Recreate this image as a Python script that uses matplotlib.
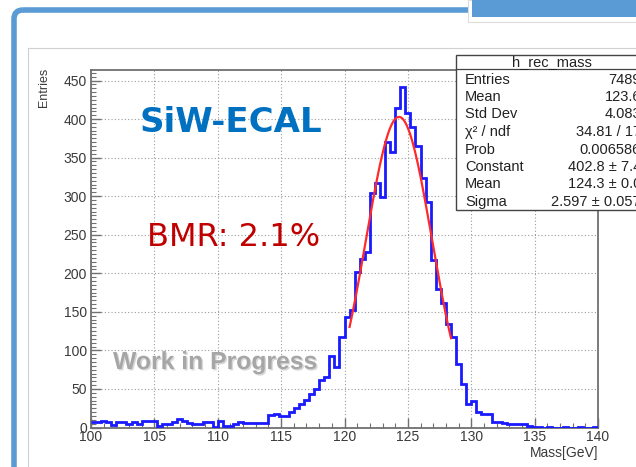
import numpy as np
import matplotlib
matplotlib.use("Agg")
import matplotlib.pyplot as plt
from matplotlib.patches import Rectangle, FancyBboxPatch
from matplotlib.ticker import MultipleLocator, FixedLocator
import matplotlib.patheffects as pe

plt.rcParams['font.family'] = ['Liberation Sans', 'DejaVu Sans']

# ---------------- data ----------------
x_min, x_max = 100.0, 140.0
n_bins = 100
counts = [
    7, 7, 9, 7, 3, 7, 7, 4, 7, 4,
    8, 8, 8, 2, 4, 4, 7, 11, 8, 6,
    4, 4, 7, 7, 1, 9, 2, 2, 5, 7,
    6, 6, 6, 6, 6, 16, 17, 15, 15, 20,
    25, 31, 36, 43, 50, 61, 65, 93, 79, 117,
    143, 152, 202, 218, 228, 304, 317, 299, 370, 357,
    414, 442, 408, 390, 365, 323, 292, 217, 180, 161,
    134, 118, 82, 57, 31, 35, 20, 17, 17, 7,
    7, 6, 5, 4, 4, 5, 2, 1, 1, 0,
    1, 0, 0, 1, 0, 0, 1, 0, 0, 1,
]
fit_constant = 402.8
fit_mean = 124.3
fit_sigma = 2.597
fit_range = (120.4, 128.4)

x_ticks = [100, 105, 110, 115, 120, 125, 130, 135, 140]
y_ticks = [0, 50, 100, 150, 200, 250, 300, 350, 400, 450]
y_max = 464.3

stats_title = "h_rec_mass"
stats_labels = ["Entries", "Mean", "Std Dev", "χ² / ndf", "Prob",
                "Constant", "Mean", "Sigma"]
stats_values = ["7489", "123.6", "4.083", "34.81 / 17", "0.006586",
                "402.8 ± 7.4", "124.3 ± 0.0", "2.597 ± 0.057"]

title_text = "SiW-ECAL"
bmr_text = "BMR: 2.1%"
wip_text = "Work in Progress"
x_label = "Mass[GeV]"
y_label = "Entries"

# ---------------- figure ----------------
W, H = 636, 467
fig = plt.figure(figsize=(W / 100, H / 100), dpi=100, facecolor='white')

# background decoration axes (pixel coordinates, y downwards)
bg = fig.add_axes([0, 0, 1, 1], zorder=0)
bg.set_xlim(0, W)
bg.set_ylim(H, 0)
bg.axis('off')

slide_blue = '#5b9bd5'
bg.add_patch(FancyBboxPatch((14, 10), 900, 900, boxstyle="round,pad=0,rounding_size=9",
                            fill=False, edgecolor=slide_blue, linewidth=4.0))
bg.add_patch(Rectangle((468, 0), 200, 22, facecolor='white', edgecolor='#dddddd', linewidth=0.8))
bg.add_patch(Rectangle((472, 0), 170, 17, facecolor=slide_blue, edgecolor='none'))
bg.plot([28, 640], [48, 48], color='#d0d0d0', lw=0.8)
bg.plot([28, 28], [48, 470], color='#d0d0d0', lw=0.8)

# main axes
L, R, T, B = 91, 598, 69.5, 427.5
ax = fig.add_axes([L / W, 1 - B / H, (R - L) / W, (B - T) / H], zorder=2)
ax.set_facecolor('white')

edges = np.linspace(x_min, x_max, n_bins + 1)
ax.stairs(counts, edges, baseline=None, color='#1a1aff', linewidth=2.0, zorder=3)

xf = np.linspace(fit_range[0], fit_range[1], 300)
yf = fit_constant * np.exp(-0.5 * ((xf - fit_mean) / fit_sigma) ** 2)
ax.plot(xf, yf, color='#ff2a2a', linewidth=1.6, zorder=4)

ax.set_xlim(x_min, x_max)
ax.set_ylim(0, y_max)
ax.xaxis.set_major_locator(FixedLocator(x_ticks))
ax.yaxis.set_major_locator(FixedLocator(y_ticks))
ax.xaxis.set_minor_locator(MultipleLocator(1))
ax.yaxis.set_minor_locator(MultipleLocator(5))
ax.grid(True, which='major', color='#9a9a9a', linestyle=(0, (1, 2)), linewidth=0.8, zorder=1)
ax.set_axisbelow(True)
for s in ax.spines.values():
    s.set_color('#707070')
    s.set_linewidth(1.3)
ax.tick_params(which='major', direction='in', length=7, width=1.0, color='#707070',
               labelsize=10, labelcolor='#3a3a3a', top=False, right=False)
ax.tick_params(which='minor', direction='in', length=3.5, width=0.8, color='#707070',
               top=False, right=False)
ax.tick_params(axis='x', which='major', pad=2)
ax.tick_params(axis='y', which='major', pad=3)

# overlay axes for texts and stats box
ov = fig.add_axes([0, 0, 1, 1], zorder=5)
ov.set_xlim(0, W)
ov.set_ylim(H, 0)
ov.axis('off')
ov.patch.set_alpha(0)

ov.text(598, 453, x_label, ha='right', va='center', fontsize=10, color='#3a3a3a')
ov.text(44, 68, y_label, ha='center', va='top', rotation=90, fontsize=9, color='#3a3a3a')

ov.text(140, 123, title_text, ha='left', va='center', fontsize=24.5, fontweight='bold',
        color='#0070c0', family=['DejaVu Sans'])
ov.text(147, 237, bmr_text, ha='left', va='center', fontsize=23, color='#c00000',
        family=['DejaVu Sans'])
ov.text(113, 362, wip_text, ha='left', va='center', fontsize=17.8, fontweight='bold',
        color='#a6a6a6',
        path_effects=[pe.withSimplePatchShadow(offset=(1, -1), shadow_rgbFace='#cfcfcf', alpha=0.8)])

# stats box
ov.add_patch(Rectangle((456, 55), 200, 155, facecolor='white', edgecolor='#444444', linewidth=1.0))
ov.plot([456, 640], [69, 69], color='#444444', lw=0.9)
ov.text(552, 62, stats_title, ha='center', va='center', fontsize=10.5, color='#222222')
for i, (lab, val) in enumerate(zip(stats_labels, stats_values)):
    yy = 79.5 + i * 17.5
    ov.text(465, yy, lab, ha='left', va='center', fontsize=10.5, color='#222222')
    ov.text(641, yy, val, ha='right', va='center', fontsize=10.5, color='#222222')

fig.savefig('out.png', dpi=100, facecolor='white')
